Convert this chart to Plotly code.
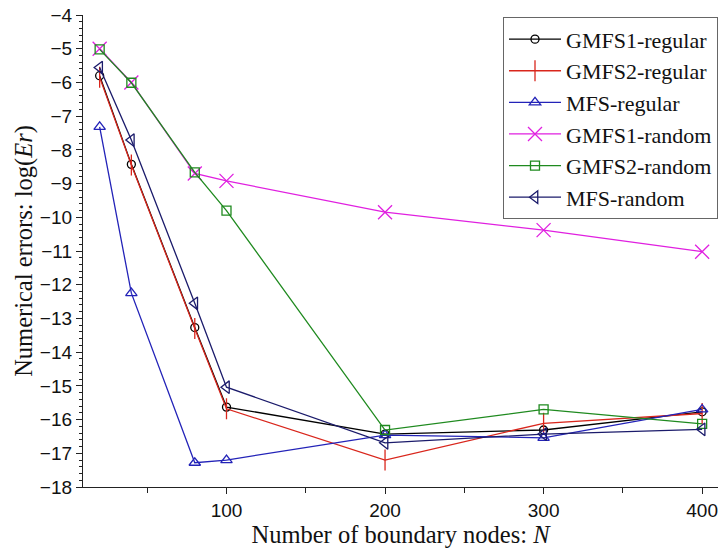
import plotly.graph_objects as go

N = [20, 40, 80, 100, 200, 300, 400]

gmfs1_regular = [-5.80, -8.43, -13.27, -15.63, -16.43, -16.31, -15.77]
gmfs2_regular = [-5.85, -8.45, -13.30, -15.68, -17.20, -16.11, -15.82]
mfs_regular   = [-7.32, -12.25, -17.28, -17.20, -16.46, -16.54, -15.70]
gmfs1_random  = [-5.00, -6.00, -8.70, -8.92, -9.85, -10.38, -11.02]
gmfs2_random  = [-5.02, -6.01, -8.67, -9.80, -16.31, -15.70, -16.13]
mfs_random    = [-5.56, -7.71, -12.55, -15.04, -16.69, -16.43, -16.29]

series = [
    ("GMFS1-regular", gmfs1_regular, "#000000", "circle-open", 8),
    ("GMFS2-regular", gmfs2_regular, "#d9261c", "line-ns-open", 15),
    ("MFS-regular", mfs_regular, "#2323b8", "triangle-up-open", 10),
    ("GMFS1-random", gmfs1_random, "#e020e0", "x-thin-open", 14),
    ("GMFS2-random", gmfs2_random, "#1f8a1f", "square-open", 9),
    ("MFS-random", mfs_random, "#1b1b6b", "triangle-left-open", 11),
]

x_tickvals = [100, 200, 300, 400]
y_tickvals = list(range(-18, -3))

fig = go.Figure()
for name, ys, color, sym, size in series:
    fig.add_trace(go.Scatter(
        x=N, y=ys, name=name, mode="lines+markers",
        line=dict(color=color, width=1.3),
        marker=dict(symbol=sym, size=size, color=color,
                    line=dict(color=color, width=1.3)),
    ))

fig.update_layout(
    width=720, height=553,
    margin=dict(l=83, r=2, t=15, b=66),
    paper_bgcolor="white", plot_bgcolor="white",
    showlegend=True,
    legend=dict(
        x=1.0, y=0.995, xanchor="right", yanchor="top",
        bgcolor="white", bordercolor="#666666", borderwidth=1,
        font=dict(family="Liberation Serif", size=22, color="#111111"),
        itemwidth=52, tracegroupgap=0,
    ),
)

fig.update_xaxes(
    range=[9.5, 410], tickvals=x_tickvals, ticks="outside", ticklen=6,
    tickwidth=1, tickcolor="#222222",
    minor=dict(dtick=50, tick0=0, ticks="outside", ticklen=5, tickcolor="#222222"),
    showline=True, linecolor="#222222", linewidth=1.2, showgrid=False, zeroline=False,
    tickfont=dict(family="Liberation Sans", size=19, color="#111111"),
    automargin=False,
    title=dict(text="Number of boundary nodes: <i>N</i>", standoff=2,
               font=dict(family="Liberation Serif", size=24.5, color="#111111")),
)
fig.update_yaxes(
    range=[-18, -4], tickvals=y_tickvals, ticks="outside", ticklen=6,
    tickwidth=1, tickcolor="#222222",
    minor=dict(dtick=0.2, tick0=0, ticks="outside", ticklen=3, tickcolor="#222222"),
    showline=True, linecolor="#222222", linewidth=1.2, showgrid=False, zeroline=False,
    tickfont=dict(family="Liberation Sans", size=19, color="#111111"),
    automargin=False,
    title=dict(text="Numerical errors: log(<i>Er</i>)", standoff=0,
               font=dict(family="Liberation Serif", size=24.5, color="#111111")),
)

fig.write_html("out.html")
